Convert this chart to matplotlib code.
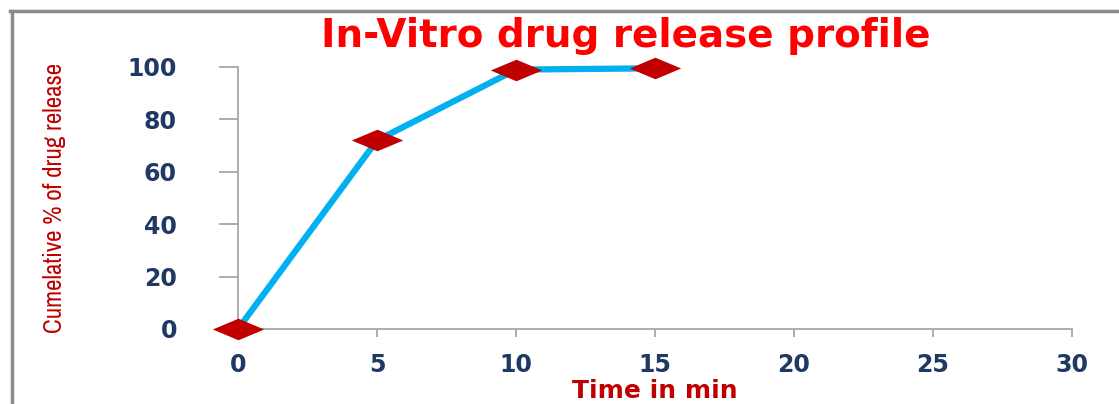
import matplotlib
matplotlib.use("Agg")
import matplotlib.pyplot as plt
from matplotlib import font_manager
from matplotlib.path import Path
from matplotlib.lines import Line2D

# Release data
time_min = [0, 5, 10, 15]
cumulative_release = [0, 72, 99, 99.5]
x_ticks = [0, 5, 10, 15, 20, 25, 30]
y_ticks = [0, 20, 40, 60, 80, 100]

# Pick a narrow face for the vertical axis title if one is available
narrow_names = sorted({f.name for f in font_manager.fontManager.ttflist
                       if "Narrow" in f.name or "Condensed" in f.name})
narrow_family = narrow_names[0] if narrow_names else "DejaVu Sans"
narrow_stretch = "normal" if narrow_names else "condensed"

W, H = 1119, 404
fig = plt.figure(figsize=(W / 100, H / 100), dpi=100)
fig.patch.set_facecolor("white")

# Outer chart frame (top and left edges)
frame_color = "#8C8C8C"
fig.add_artist(Line2D([10 / W, 1], [1 - 11 / H, 1 - 11 / H], transform=fig.transFigure,
                      color=frame_color, lw=2.5))
fig.add_artist(Line2D([12 / W, 12 / W], [0, 1 - 11 / H], transform=fig.transFigure,
                      color=frame_color, lw=2.5))

ax = fig.add_axes([238 / W, 1 - 329 / H, (1072 - 238) / W, (329 - 67) / H])

# Wide, flat diamond marker
diamond = Path([(-1, 0), (0, 0.42), (1, 0), (0, -0.42), (-1, 0)],
               [Path.MOVETO, Path.LINETO, Path.LINETO, Path.LINETO, Path.CLOSEPOLY])

ax.plot(time_min, cumulative_release, color="#00B0F0", lw=4.5, solid_capstyle="butt",
        zorder=3, clip_on=False)
ax.plot(time_min, cumulative_release, linestyle="none", marker=diamond, ms=37,
        color="#C00000", markeredgewidth=0, zorder=4, clip_on=False)

ax.set_xlim(0, 30)
ax.set_ylim(0, 100)
ax.set_xticks(x_ticks)
ax.set_yticks(y_ticks)

spine_color = "#A6A6A6"
for side in ("top", "right"):
    ax.spines[side].set_visible(False)
for side in ("left", "bottom"):
    ax.spines[side].set_color(spine_color)
    ax.spines[side].set_linewidth(1.3)

tick_color = "#1F3864"
ax.tick_params(axis="y", direction="out", length=14, width=1.3, color=spine_color,
               pad=30, labelsize=17, labelcolor=tick_color)
ax.tick_params(axis="x", direction="out", length=6, width=1.3, color=spine_color,
               pad=11, labelsize=17, labelcolor=tick_color)
for lab in ax.get_xticklabels() + ax.get_yticklabels():
    lab.set_fontweight("heavy")
    lab.set_fontfamily("DejaVu Sans")

fig.text(626 / W, 1 - 36 / H, "In-Vitro drug release profile", ha="center", va="center",
         fontsize=28, fontweight="bold", color="#FF0000", family="DejaVu Sans")

fig.text(54 / W, 1 - 198 / H, "Cumelative % of drug release", rotation=90,
         ha="center", va="center", fontsize=18, fontweight="bold", color="#C00000",
         family=[narrow_family, "DejaVu Sans"], fontstretch=narrow_stretch)

fig.text(655 / W, 1.5 / H, "Time in min", ha="center", va="bottom",
         fontsize=18, fontweight="bold", color="#C00000", family="DejaVu Sans")

fig.savefig("out.png", dpi=100)
